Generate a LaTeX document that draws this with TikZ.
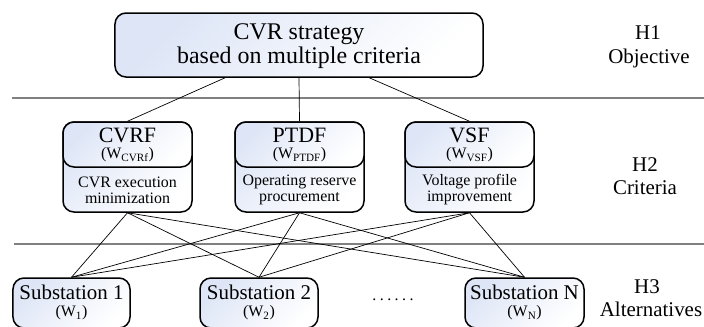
\documentclass[tikz,border=0pt]{standalone}
\usepackage{fontspec}
\setmainfont{Liberation Serif}
\usetikzlibrary{calc}
\definecolor{tint}{RGB}{221,229,246}
\definecolor{sepgray}{RGB}{128,128,128}
\begin{document}
\begin{tikzpicture}[x=1bp,y=-1bp,
  box/.style={draw=black, line width=1.5bp, rounded corners=11bp,
    top color=tint, bottom color=white, shading angle=45, inner sep=0pt},
  conn/.style={draw=black, line width=0.7bp},
  sepline/.style={draw=sepgray, line width=2.6bp},
  big/.style={font=\fontsize{24}{26}\selectfont, inner sep=0pt},
  mid/.style={font=\fontsize{21}{24}\selectfont, inner sep=0pt},
  crit/.style={font=\fontsize{22}{24}\selectfont, inner sep=0pt},
  small/.style={font=\fontsize{16}{16}\selectfont, inner sep=0pt, align=center}]
\useasboundingbox (0,0) rectangle (704,326);

% separators
\draw[sepline] (12,98) -- (704,98);
\draw[sepline] (14,244) -- (704,244);

% objective
\node[box, minimum width=368bp, minimum height=64bp] (top) at (299,45) {};
\node[big] (t1) at (299,34) {CVR strategy};
\node[big] (t2) at (299,58) {based on multiple criteria};

% criteria
\foreach \n/\x/\name/\sub/\la/\lb in {c1/127.5/CVRF/CVRf/CVR execution/minimization,
                                      c2/299.5/PTDF/PTDF/Operating reserve/procurement,
                                      c3/469.5/VSF/VSF/Voltage profile/improvement}{
  \node[box, minimum width=129bp, minimum height=90bp] (\n) at (\x,167) {};
  \node[box, minimum width=129bp, minimum height=45bp, anchor=north] (\n h) at (\n.north) {};
  \node[crit] (\n a) at (\x,135) {\name};
  \node[small] (\n b) at (\x,155) {(W\textsubscript{\sub})};
  \node[small] (\n c) at (\x,190) {\la\\\lb};
}

% alternatives
\node[box, minimum width=117bp, minimum height=50bp] (s1) at (71.5,303) {};
\node[box, minimum width=118bp, minimum height=50bp] (s2) at (259,303) {};
\node[box, minimum width=119bp, minimum height=50bp] (s3) at (524.5,303) {};
\node[mid] (s1a) at (71.5,292) {Substation 1};
\node[small] (s1b) at (71.5,313) {(W\textsubscript{1})};
\node[mid] (s2a) at (259,292) {Substation 2};
\node[small] (s2b) at (259,313) {(W\textsubscript{2})};
\node[mid] (s3a) at (524.5,292) {Substation N};
\node[small] (s3b) at (524.5,313) {(W\textsubscript{N})};
\node[font=\fontsize{16}{16}\selectfont, inner sep=0pt] (dots) at (393,300)
  {.\kern3.5bp.\kern3.5bp.\kern3.5bp.\kern3.5bp.\kern3.5bp.};

% level labels
\node[mid] (h1) at (648,33) {H1};
\node[mid] (h1b) at (649,58) {Objective};
\node[mid] (h2) at (645,165) {H2};
\node[mid] (h2b) at (645,188) {Criteria};
\node[mid] (h3) at (647,287) {H3};
\node[mid] (h3b) at (651,309) {Alternatives};

% connectors objective -> criteria
\draw[conn] ($(top.south west)!0.30!(top.south east)$) -- (c1.north);
\draw[conn] (top.south) -- (c2.north);
\draw[conn] ($(top.south west)!0.69!(top.south east)$) -- (c3.north);

% connectors criteria -> alternatives
\foreach \c in {c1,c2,c3}{
  \foreach \s in {s1,s2,s3}{
    \draw[conn] (\c.south) -- (\s.north);
  }
}
\end{tikzpicture}
\end{document}
